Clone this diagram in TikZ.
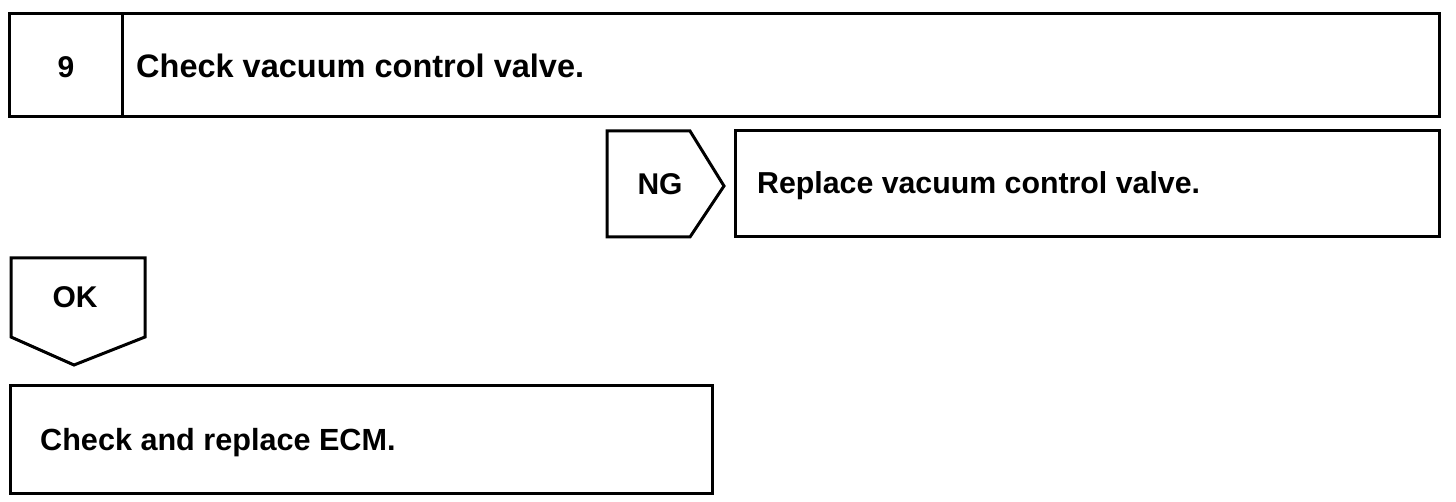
\documentclass[tikz,border=0pt]{standalone}
\usepackage{fontspec}
\setmainfont{Liberation Sans}
\begin{document}
\begin{tikzpicture}[x=1pt,y=-1pt,
  box/.style={draw=black,line width=3pt,line join=miter},
  lbl/.style={font=\fontsize{30.3}{34}\selectfont\bfseries,inner sep=0pt,anchor=base west},
  big/.style={lbl,font=\fontsize{32.5}{36}\selectfont\bfseries},
  tag/.style={font=\fontsize{30}{34}\selectfont\bfseries,inner sep=0pt,anchor=base}]
\useasboundingbox (0,0) rectangle (1456,502);
% step box
\draw[box] (9,14) rectangle (1439,117);
\draw[box] (122,14) -- (122,117);
\node[tag] (num) at (66,78) {9};
\node[big] (step) at (136,78) {Check vacuum control valve.};
% NG tag
\coordinate (ng1) at (607,131);
\coordinate (ng2) at (690,131);
\coordinate (ngtip) at (724,186);
\coordinate (ng3) at (690,237);
\coordinate (ng4) at (607,237);
\draw[box] (ng1) -- (ng2) -- (ngtip) -- (ng3) -- (ng4) -- cycle;
\node[tag] (ng) at (660,195) {NG};
% replace box
\draw[box] (735,131) rectangle (1439,237);
\node[lbl] (repl) at (757,194) {Replace vacuum control valve.};
% OK tag
\coordinate (ok1) at (11,258);
\coordinate (ok2) at (145,258);
\coordinate (ok3) at (145,337);
\coordinate (oktip) at (74,365);
\coordinate (ok4) at (11,337);
\draw[box] (ok1) -- (ok2) -- (ok3) -- (oktip) -- (ok4) -- cycle;
\node[tag] (ok) at (75,308) {OK};
% ECM box
\draw[box] (10,385) rectangle (712,493);
\node[lbl,font=\fontsize{30.6}{34}\selectfont\bfseries] (ecm) at (40,450) {Check and replace ECM.};
\end{tikzpicture}
\end{document}
